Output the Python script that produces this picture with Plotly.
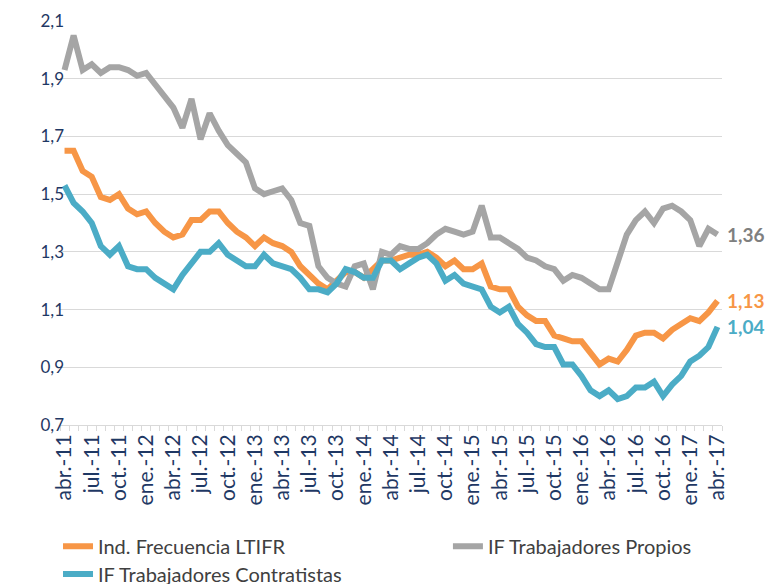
import plotly.graph_objects as go

TICK_LABELS = ["abr.-11", "jul.-11", "oct.-11", "ene.-12", "abr.-12", "jul.-12", "oct.-12",
               "ene.-13", "abr.-13", "jul.-13", "oct.-13", "ene.-14", "abr.-14", "jul.-14",
               "oct.-14", "ene.-15", "abr.-15", "jul.-15", "oct.-15", "ene.-16", "abr.-16",
               "jul.-16", "oct.-16", "ene.-17", "abr.-17"]

LTIFR = [1.65, 1.65, 1.58, 1.56, 1.49, 1.48, 1.50, 1.45, 1.43, 1.44,
         1.40, 1.37, 1.35, 1.36, 1.41, 1.41, 1.44, 1.44, 1.40, 1.37,
         1.35, 1.32, 1.35, 1.33, 1.32, 1.30, 1.25, 1.22, 1.19, 1.17,
         1.20, 1.23, 1.23, 1.21, 1.24, 1.27, 1.27, 1.28, 1.29, 1.29,
         1.30, 1.28, 1.25, 1.27, 1.24, 1.24, 1.26, 1.18, 1.17, 1.17,
         1.11, 1.08, 1.06, 1.06, 1.01, 1.00, 0.99, 0.99, 0.95, 0.91,
         0.93, 0.92, 0.96, 1.01, 1.02, 1.02, 1.00, 1.03, 1.05, 1.07,
         1.06, 1.09, 1.13]

PROPIOS = [1.93, 2.05, 1.93, 1.95, 1.92, 1.94, 1.94, 1.93, 1.91, 1.92,
           1.88, 1.84, 1.80, 1.73, 1.83, 1.69, 1.78, 1.72, 1.67, 1.64,
           1.61, 1.52, 1.50, 1.51, 1.52, 1.48, 1.40, 1.39, 1.25, 1.21,
           1.19, 1.18, 1.25, 1.26, 1.17, 1.30, 1.29, 1.32, 1.31, 1.31,
           1.33, 1.36, 1.38, 1.37, 1.36, 1.37, 1.46, 1.35, 1.35, 1.33,
           1.31, 1.28, 1.27, 1.25, 1.24, 1.20, 1.22, 1.21, 1.19, 1.17,
           1.17, 1.26, 1.36, 1.41, 1.44, 1.40, 1.45, 1.46, 1.44, 1.41,
           1.32, 1.38, 1.36]

CONTRATISTAS = [1.53, 1.47, 1.44, 1.40, 1.32, 1.29, 1.32, 1.25, 1.24, 1.24,
                1.21, 1.19, 1.17, 1.22, 1.26, 1.30, 1.30, 1.33, 1.29, 1.27,
                1.25, 1.25, 1.29, 1.26, 1.25, 1.24, 1.21, 1.17, 1.17, 1.16,
                1.19, 1.24, 1.23, 1.21, 1.21, 1.27, 1.27, 1.24, 1.26, 1.28,
                1.29, 1.26, 1.20, 1.22, 1.19, 1.18, 1.17, 1.11, 1.09, 1.11,
                1.05, 1.02, 0.98, 0.97, 0.97, 0.91, 0.91, 0.87, 0.82, 0.80,
                0.82, 0.79, 0.80, 0.83, 0.83, 0.85, 0.80, 0.84, 0.87, 0.92,
                0.94, 0.97, 1.04]

SERIES_NAMES = ["Ind. Frecuencia LTIFR", "IF Trabajadores Propios", "IF Trabajadores Contratistas"]
SERIES = [LTIFR, PROPIOS, CONTRATISTAS]
LINE_COLORS = ["#F79646", "#A5A5A5", "#4BACC6"]
LABEL_COLORS = ["#F79646", "#7F7F7F", "#4BACC6"]
LEGENDS = ["legend", "legend2", "legend3"]

x = list(range(len(LTIFR)))

fig = go.Figure()
for name, ys, col, lg in zip(SERIES_NAMES, SERIES, LINE_COLORS, LEGENDS):
    fig.add_trace(go.Scatter(x=x, y=ys, mode="lines", name=name, legend=lg,
                             showlegend=True,
                             line=dict(color=col, width=6), hoverinfo="skip"))

for ys, col in zip(SERIES, LABEL_COLORS):
    fig.add_annotation(x=x[-1], y=ys[-1], xref="x", yref="y",
                       text=f"{ys[-1]:.2f}".replace(".", ","), showarrow=False,
                       xanchor="left", yanchor="middle", xshift=8,
                       font=dict(family="Lato", size=19, color=col, weight="bold"))

legend_font = dict(family="Lato", size=20, color="#404040")
fig.update_layout(
    width=771, height=584,
    showlegend=True,
    margin=dict(l=60, r=49, t=21, b=159, autoexpand=False),
    paper_bgcolor="white", plot_bgcolor="white",
    separators=",.",
    font=dict(family="Lato", color="#1F3864"),
    xaxis=dict(range=[-0.5, len(x) - 0.5], tickmode="array", tickvals=x[::3],
               ticktext=TICK_LABELS, tickangle=-90,
               tickfont=dict(family="Lato", size=21, color="#1F3864"),
               showgrid=False, zeroline=False, showline=True,
               linecolor="#D9D9D9", linewidth=1, ticks="",
               minor=dict(ticks="outside", tick0=-0.5, dtick=1, ticklen=5,
                          tickcolor="#D9D9D9", tickwidth=1, showgrid=False)),
    yaxis=dict(range=[0.7, 2.1], tickmode="linear", tick0=0.7, dtick=0.2,
               tickformat=".1f", gridcolor="#D9D9D9", gridwidth=1,
               showline=False, zeroline=False, ticks="",
               tickfont=dict(family="Lato", size=17, color="#1F3864"),
               ticklabelstandoff=-5),
    legend=dict(x=-0.003, y=-0.3, xanchor="left", yanchor="middle",
                orientation="h", font=legend_font, bgcolor="rgba(0,0,0,0)"),
    legend2=dict(x=0.586, y=-0.3, xanchor="left", yanchor="middle",
                 orientation="h", font=legend_font, bgcolor="rgba(0,0,0,0)"),
    legend3=dict(x=-0.003, y=-0.369, xanchor="left", yanchor="middle",
                 orientation="h", font=legend_font, bgcolor="rgba(0,0,0,0)"),
)

fig.write_html("out.html", config={"displayModeBar": False},
               post_script="document.body.style.margin='0px';")
